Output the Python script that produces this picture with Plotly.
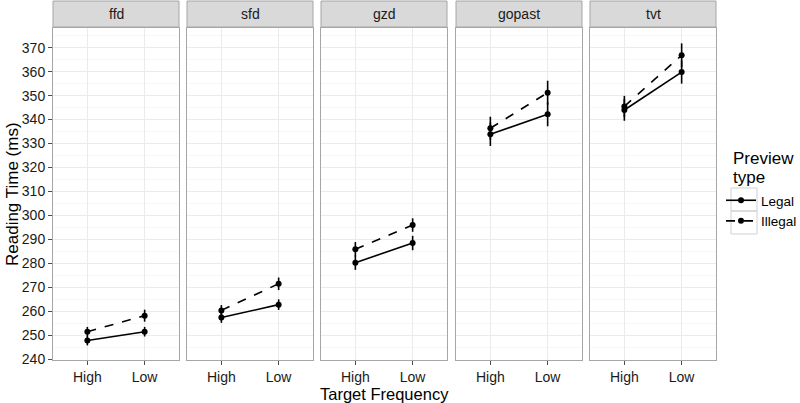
import plotly.graph_objects as go

panels = ["ffd", "sfd", "gzd", "gopast", "tvt"]
freq = ["High", "Low"]
legal_mean = {"ffd": [247.8, 251.5], "sfd": [257.4, 262.8], "gzd": [280.3, 288.5],
              "gopast": [333.9, 342.2], "tvt": [344.0, 359.8]}
legal_err = {"ffd": [2.0, 2.0], "sfd": [2.2, 2.2], "gzd": [3.0, 3.0],
             "gopast": [4.9, 5.0], "tvt": [4.5, 4.8]}
illegal_mean = {"ffd": [251.5, 258.2], "sfd": [260.4, 271.5], "gzd": [285.9, 296.0],
                "gopast": [336.4, 351.2], "tvt": [345.5, 366.8]}
illegal_err = {"ffd": [2.0, 2.5], "sfd": [2.2, 2.6], "gzd": [3.0, 2.8],
               "gopast": [4.8, 5.0], "tvt": [4.4, 5.0]}
y_ticks = list(range(240, 371, 10))

W, H = 800, 403
ML, MR, MT, MB = 53, 84, 28, 43
PW = W - ML - MR
PH = H - MT - MB
starts = [53, 187, 321, 456, 590]
pw = 126
FONT = "Liberation Sans"


def px_x(px):
    return (px - ML) / PW


def px_y(py):
    return (H - MB - py) / PH


fig = go.Figure()
layout = {}
shapes = []
annotations = []
for i, p in enumerate(panels):
    ax = "" if i == 0 else str(i + 1)
    x0 = px_x(starts[i])
    x1 = px_x(starts[i] + pw)
    for name, means, errs, dash, show in [("Legal", legal_mean, legal_err, "solid", i == 0),
                                          ("Illegal", illegal_mean, illegal_err, "dash", i == 0)]:
        fig.add_trace(go.Scatter(
            x=freq, y=means[p], mode="lines+markers", name=name,
            legendgroup=name, showlegend=show,
            line=dict(color="black", width=1.6, dash=dash),
            marker=dict(color="black", size=6),
            error_y=dict(type="data", array=errs[p], width=0, thickness=1.6, color="black"),
            xaxis="x" + ax, yaxis="y" + ax))
    layout["xaxis" + ax] = dict(
        domain=[x0, x1], anchor="y" + ax, type="category", range=[-0.6, 1.6],
        showgrid=True, gridcolor="#EBEBEB", gridwidth=1, zeroline=False,
        showline=True, linecolor="#A6A6A6", linewidth=1, mirror=True,
        ticks="outside", ticklen=4, tickcolor="#4D4D4D",
        tickfont=dict(family=FONT, size=14, color="#1a1a1a"))
    layout["yaxis" + ax] = dict(
        domain=[0, 1], anchor="x" + ax, range=[239.7, 378.2],
        tickvals=y_ticks, showticklabels=(i == 0),
        showgrid=True, gridcolor="#EBEBEB", gridwidth=1, zeroline=False,
        minor=dict(dtick=5, tick0=0, showgrid=True, gridcolor="#F7F7F7", gridwidth=1),
        showline=True, linecolor="#A6A6A6", linewidth=1, mirror=True,
        ticks="outside" if i == 0 else "", ticklen=4, tickcolor="#4D4D4D",
        tickfont=dict(family=FONT, size=14, color="#1a1a1a"),
        matches=None if i == 0 else "y")
    shapes.append(dict(type="rect", xref="paper", yref="paper",
                       x0=x0, x1=x1, y0=1 + 1 / PH, y1=1 + 27 / PH,
                       fillcolor="#D9D9D9", line=dict(color="#A6A6A6", width=1), layer="below"))
    annotations.append(dict(text=p, xref="paper", yref="paper", x=(x0 + x1) / 2,
                            y=1 + 14 / PH, showarrow=False, xanchor="center", yanchor="middle",
                            font=dict(family=FONT, size=14, color="#1a1a1a")))

# legend key boxes
for (ya, yb) in [(188, 211), (211, 234)]:
    shapes.append(dict(type="rect", xref="paper", yref="paper",
                       x0=px_x(731), x1=px_x(757), y0=px_y(yb), y1=px_y(ya),
                       fillcolor="rgba(0,0,0,0)", line=dict(color="#D0D0D0", width=1)))

annotations.append(dict(text="Target Frequency", xref="paper", yref="paper",
                        x=px_x(384.5), y=px_y(393.5), showarrow=False,
                        xanchor="center", yanchor="middle",
                        font=dict(family=FONT, size=16.5, color="black")))
annotations.append(dict(text="Reading Time (ms)", xref="paper", yref="paper",
                        x=px_x(12), y=px_y(194), showarrow=False, textangle=-90,
                        xanchor="center", yanchor="middle",
                        font=dict(family=FONT, size=17, color="black")))
for txt, yc in [("Preview", 158), ("type", 177)]:
    annotations.append(dict(text=txt, xref="paper", yref="paper",
                            x=px_x(731), y=px_y(yc), showarrow=False, align="left",
                            xanchor="left", yanchor="middle",
                            font=dict(family=FONT, size=17, color="black")))

fig.update_layout(
    width=W, height=H, margin=dict(l=ML, r=MR, t=MT, b=MB, autoexpand=False),
    paper_bgcolor="white", plot_bgcolor="white",
    shapes=shapes, annotations=annotations,
    legend=dict(x=px_x(721), y=px_y(185), xanchor="left", yanchor="top",
                font=dict(family=FONT, size=13.5, color="black"),
                bgcolor="rgba(0,0,0,0)", tracegroupgap=0, itemwidth=30),
    **layout)

fig.write_html("out.html", config={"displayModeBar": False},
               post_script="document.body.style.margin='0';document.body.style.padding='0';")
